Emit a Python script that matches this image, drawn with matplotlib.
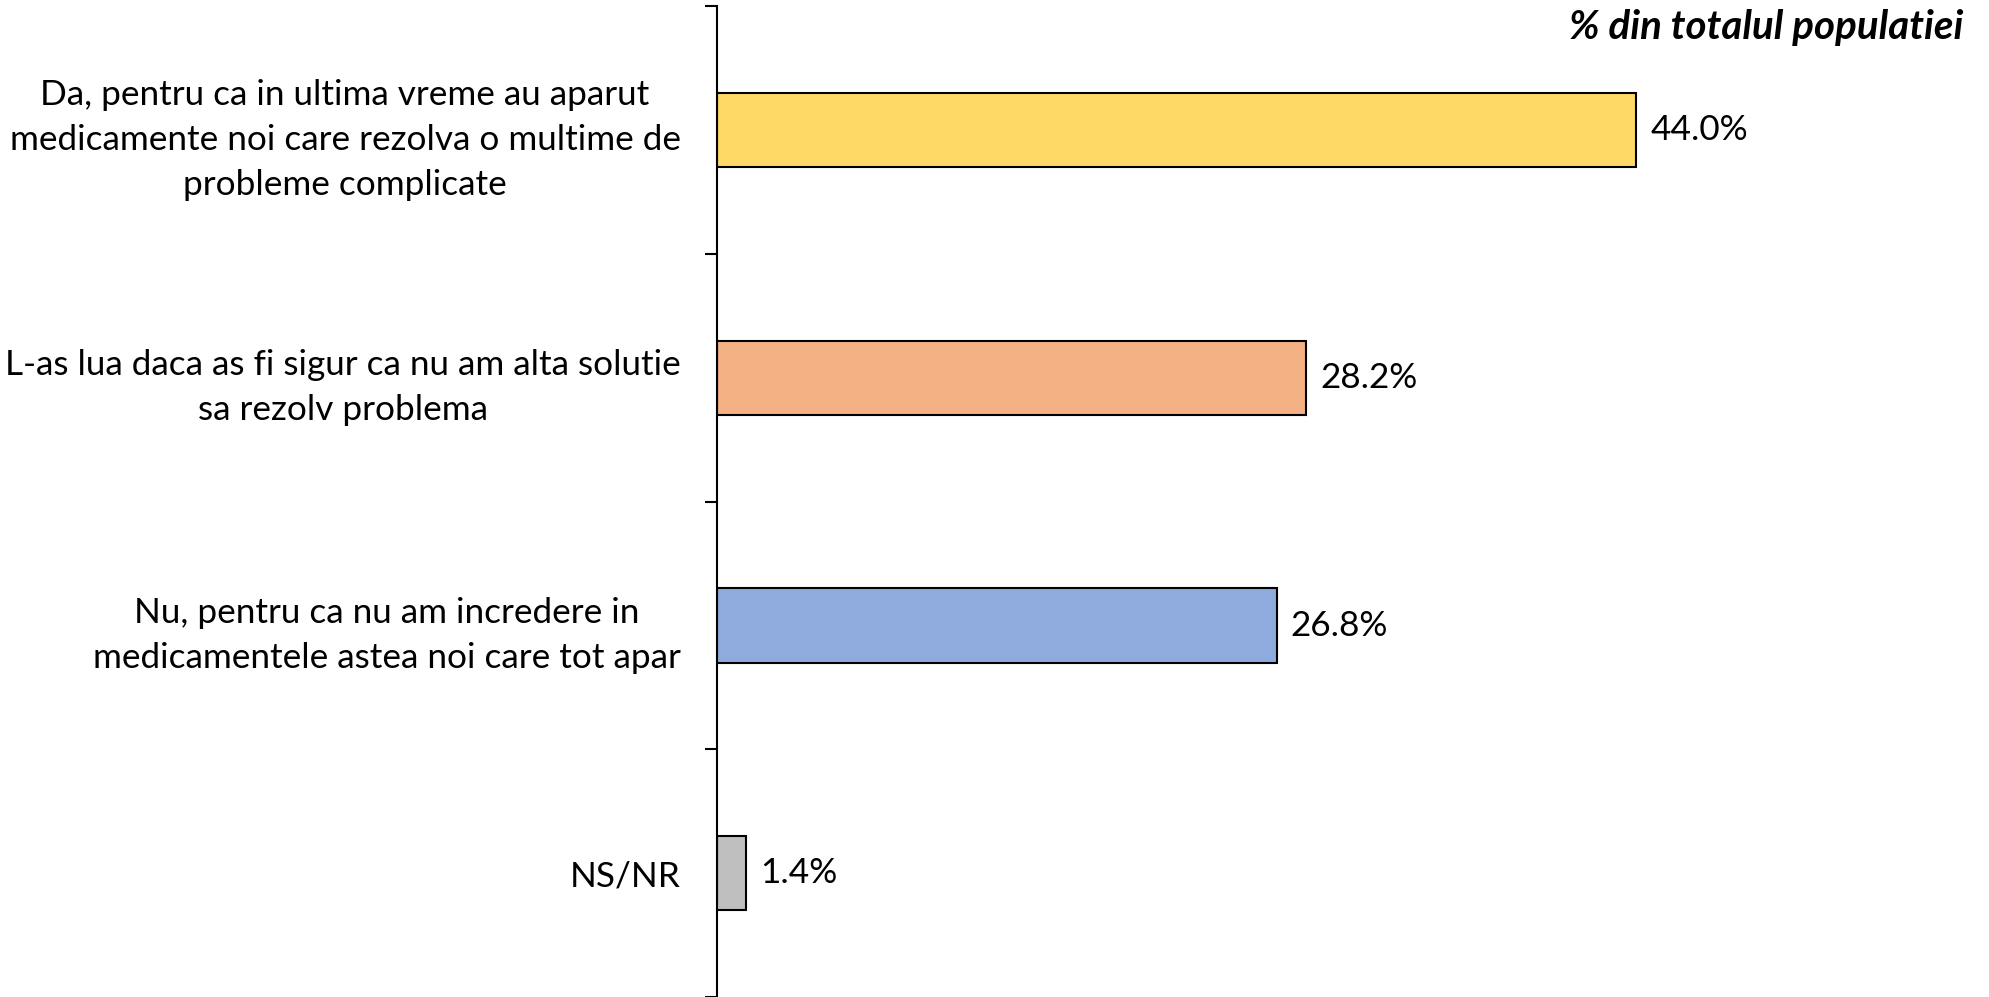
import matplotlib
matplotlib.use("Agg")
import matplotlib.pyplot as plt

plt.rcParams['font.family'] = ['Lato', 'DejaVu Sans']

# answers (top to bottom) and share of population, %
answers = [
    "Da, pentru ca in ultima vreme au aparut\nmedicamente noi care rezolva o multime de\nprobleme complicate",
    "L-as lua daca as fi sigur ca nu am alta solutie\nsa rezolv problema",
    "Nu, pentru ca nu am incredere in\nmedicamentele astea noi care tot apar",
    "NS/NR",
]
shares = [44.0, 28.2, 26.8, 1.4]
bar_colors = ["#FFD966", "#F4B183", "#8FAADC", "#BFBFBF"]

fig = plt.figure(figsize=(19.89, 9.97), dpi=100)
ax = fig.add_axes([0.3603, 0.0, 0.6306, 0.9936])

pos = list(range(len(answers)))
bars = ax.barh(pos, shares, height=0.3, color=bar_colors, edgecolor="black", linewidth=1.5)

for b, v in zip(bars, shares):
    ax.annotate(f"{v:.1f}%", (b.get_width(), b.get_y() + b.get_height() / 2),
                xytext=(10, 0), textcoords="offset points", va="center", ha="left",
                fontsize=25.3)

ax.set_xlim(0, 60)
ax.set_ylim(3.5, -0.5)

ax.set_yticks(pos)
ax.set_yticklabels(answers, fontsize=25.3, ha="right", multialignment="center", linespacing=1.5)
ax.tick_params(axis="y", which="major", length=0, pad=26)
ax.set_yticks([-0.5, 0.5, 1.5, 2.5, 3.5], minor=True)
ax.tick_params(axis="y", which="minor", length=9, width=1.5)

ax.set_xticks([])
for s in ["top", "right", "bottom"]:
    ax.spines[s].set_visible(False)
ax.spines["left"].set_linewidth(1.5)

fig.text(0.987, 0.972, "% din totalul populatiei", ha="right", va="center",
         fontsize=29, fontweight="bold", fontstyle="italic")

fig.savefig("out.png", dpi=100)
